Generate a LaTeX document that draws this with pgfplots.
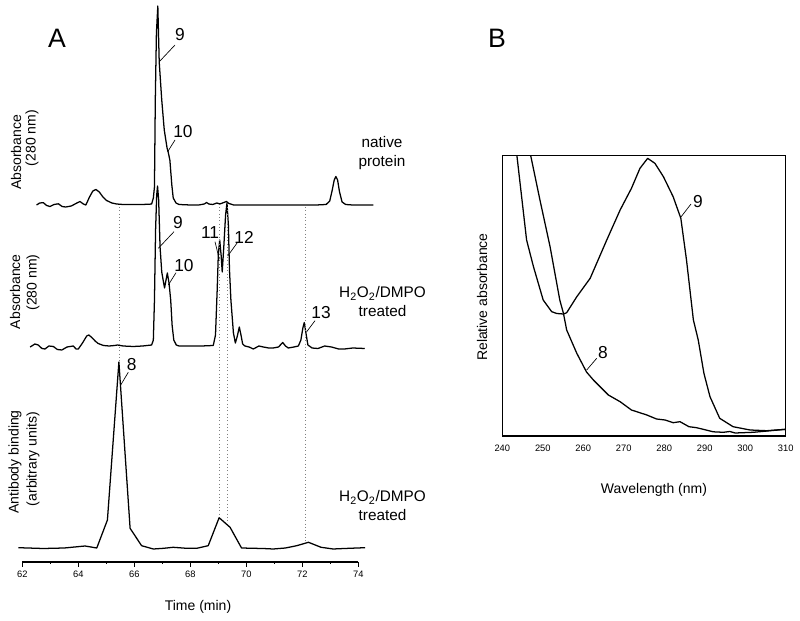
\documentclass[border=0pt]{standalone}
\usepackage{pgfplots}
\pgfplotsset{compat=1.18}
\usepackage{fontspec}
\setmainfont{Liberation Sans}
\newcommand\labf{\fontsize{10.5}{12.6}\selectfont}
\newcommand\tickf{\fontsize{7}{8.4}\selectfont}
\newcommand\numf{\fontsize{13}{15.6}\selectfont}
\newcommand\sidef{\fontsize{11.5}{14.25}\selectfont}
\newcommand\panelf{\fontsize{20}{24}\selectfont}
\pgfplotsset{tr/.style={black, line width=0.95pt, mark=none, line join=round}}
\tikzset{tk/.style={black, line width=0.8pt}}
\begin{document}
\begin{tikzpicture}
\useasboundingbox (0,0) rectangle (600pt,465.75pt);
% ---------------- Panel A ----------------
\begin{axis}[
  at={(16.725pt,44.25pt)}, anchor=south west,
  scale only axis, width=252pt, height=421.5pt,
  xmin=62, xmax=74, ymin=0, ymax=562,
  axis line style={draw=none},
  xtick={62,64,...,74}, ytick=\empty,
  tick align=outside, major tick length=3.5pt,
  tick style={draw=none},
  xticklabel style={font=\tickf},
  /pgf/number format/assume math mode=true,
  clip=false,
]
% x axis line and ticks
\draw[tk] (axis cs:62,0) -- (axis cs:74,0);
\draw[tk] (axis cs:62,0) -- (axis cs:62,-4.7);
\draw[tk] (axis cs:64,0) -- (axis cs:64,-4.7);
\draw[tk] (axis cs:66,0) -- (axis cs:66,-4.7);
\draw[tk] (axis cs:68,0) -- (axis cs:68,-4.7);
\draw[tk] (axis cs:70,0) -- (axis cs:70,-4.7);
\draw[tk] (axis cs:72,0) -- (axis cs:72,-4.7);
\draw[tk] (axis cs:74,0) -- (axis cs:74,-4.7);
\draw[tk] (axis cs:63,0) -- (axis cs:63,-2.4);
\draw[tk] (axis cs:65,0) -- (axis cs:65,-2.4);
\draw[tk] (axis cs:67,0) -- (axis cs:67,-2.4);
\draw[tk] (axis cs:69,0) -- (axis cs:69,-2.4);
\draw[tk] (axis cs:71,0) -- (axis cs:71,-2.4);
\draw[tk] (axis cs:73,0) -- (axis cs:73,-2.4);
% native protein
\addplot[tr] coordinates {
(62.51,357) (62.62,359) (62.75,359.3) (62.87,356.5) (62.99,355.5) (63.13,357.5)
(63.29,358.2) (63.42,355.5) (63.55,355) (63.75,356) (63.95,359) (64.06,360.5)
(64.18,358) (64.27,357) (64.40,365) (64.52,371) (64.63,372.5) (64.75,370)
(64.88,365) (65.01,361.5) (65.2,359) (65.37,358) (65.6,357.5) (65.9,357.5)
(66.2,357.5) (66.5,357.7) (66.62,358) (66.68,364) (66.72,375) (66.75,462)
(66.79,529) (66.84,556) (66.89,500) (66.98,462) (67.07,432) (67.17,414)
(67.21,410) (67.27,402) (67.34,377) (67.39,364) (67.49,359) (67.6,357.5)
(68.0,357) (68.3,357) (68.5,358) (68.58,359.5) (68.66,358) (68.8,357.5)
(68.95,359) (69.05,358) (69.2,359.5) (69.29,360.5) (69.38,358.5) (69.55,357)
(70.0,357) (70.5,357) (71.0,357) (71.5,357) (72.0,357) (72.5,357)
(72.85,357.5) (72.98,361) (73.07,372) (73.14,382) (73.2,385.5) (73.26,382)
(73.33,370) (73.42,360) (73.55,357.5) (73.8,357) (74.2,357) (74.54,357)
};
% H2O2/DMPO treated absorbance
\addplot[tr] coordinates {
(62.28,215) (62.45,218) (62.57,217) (62.7,213.5) (62.81,213) (62.95,216)
(63.11,215.5) (63.25,212.5) (63.41,212) (63.6,215) (63.82,216) (63.92,213)
(64.0,213) (64.15,219) (64.3,226) (64.38,227) (64.5,224) (64.6,221)
(64.71,218.5) (64.9,216.5) (65.1,216) (65.3,216.5) (65.4,217) (65.6,216)
(65.96,215.5) (66.3,216) (66.62,217) (66.68,222) (66.72,262) (66.76,332)
(66.8,367) (66.83,376) (66.87,362) (66.92,315) (66.98,290) (67.08,274)
(67.18,289) (67.24,279) (67.3,262) (67.35,237) (67.41,222) (67.5,217)
(67.6,216) (68.0,216) (68.4,216) (68.82,216.5) (68.9,227) (68.96,272)
(69.0,307) (69.05,322) (69.1,307) (69.14,290) (69.2,317) (69.26,347)
(69.31,359) (69.36,337) (69.4,292) (69.45,262) (69.54,229) (69.61,219)
(69.68,226) (69.75,235) (69.81,227) (69.87,218) (69.95,216) (70.1,215)
(70.25,213) (70.45,216) (70.61,215) (70.8,214) (70.96,214) (71.15,215)
(71.3,219.5) (71.4,216) (71.5,214) (71.7,215) (71.86,216) (71.95,222)
(72.02,234) (72.07,239.5) (72.13,229) (72.2,217) (72.35,214) (72.56,213.5)
(72.8,216) (73.04,215) (73.3,213) (73.51,213) (73.8,214) (74.23,213.5)
};
% antibody binding
\addplot[tr] coordinates {
(61.86,14.3) (62.75,13.5) (63.5,14) (64.24,16) (64.66,14) (65.04,42)
(65.45,200) (65.85,33.7) (66.26,16.3) (66.68,13) (67.05,13.7) (67.39,14.7)
(67.87,13.7) (68.23,13.7) (68.64,16.3) (69.03,44.3) (69.42,34.7) (69.83,14)
(70.25,13.7) (70.6,13.5) (70.96,13) (71.4,14) (71.8,16.3) (72.22,19.7)
(72.67,14.7) (73.1,13) (73.5,13.5) (74.24,14.3)
};
\draw[gray, dotted, line width=0.5pt] (axis cs:65.45,355) -- (axis cs:65.45,200);
\draw[gray, dotted, line width=0.5pt] (axis cs:69.04,355) -- (axis cs:69.04,45);
\draw[gray, dotted, line width=0.5pt] (axis cs:69.31,355) -- (axis cs:69.31,39);
\draw[gray, dotted, line width=0.5pt] (axis cs:72.12,355) -- (axis cs:72.12,20);
\end{axis}
% ---------------- Panel B ----------------
\begin{axis}[
  at={(376.725pt,138.75pt)}, anchor=south west,
  scale only axis, width=212.55pt, height=210.5pt,
  xmin=240, xmax=310, ymin=0, ymax=280.7,
  xtick={240,250,...,310}, ytick=\empty,
  major tick length=0pt,
  xticklabel style={font=\tickf, yshift=-3.5pt},
  /pgf/number format/assume math mode=true,
  axis line style={line width=0.8pt},
]
% fraction 9
\addplot[tr] coordinates {
(243.0,302) (243.6,280.7) (246.0,196) (247.7,169.3) (250.1,136) (252.2,124.3)
(253.5,122.5) (255.1,122) (255.9,123.3) (258.4,139.3) (261.7,157.7) (265.8,196)
(269.1,226) (271.9,247.7) (274,267.7) (275.9,277.7) (277.7,272.7) (279.8,259.3)
(282.2,239.3) (284.1,217.7) (285.5,176) (287.2,116) (288.4,96) (289.8,62.7)
(291.3,39.3) (293.7,17.7) (297,9.3) (301.2,6) (305.3,5.3) (310,6.7)
};
% fraction 8
\addplot[tr] coordinates {
(246.5,300) (247,280.7) (249.3,236) (251.8,189.3) (254.2,136) (255.1,122.7)
(255.9,106) (258.4,82.7) (260.8,64) (262.5,56) (266.2,41) (269.1,34.3)
(271.9,26) (275.7,21) (278.1,17) (280.2,16) (282.2,13.3) (283.9,14.3)
(286.1,9.3) (288,8.3) (292.1,4.2) (294.6,3.7) (296.2,4.5) (297.5,3)
(302,3.7) (310,6.7)
};
\end{axis}
% ---------------- Text (pixel coordinates) ----------------
\begin{scope}[x=0.75pt, y=-0.75pt, yshift=465.75pt]
\node[font=\panelf] at (57,38) {A};
\node[font=\panelf] at (497,38) {B};
% y labels panel A
\node[font=\labf, rotate=90] at (16,152.5) {Absorbance};
\node[font=\labf, rotate=90] at (32,138) {(280 nm)};
\node[font=\labf, rotate=90] at (15,291.7) {Absorbance};
\node[font=\labf, rotate=90] at (33,282.5) {(280 nm)};
\node[font=\labf, rotate=90] at (15,462) {Antibody binding};
\node[font=\labf, rotate=90] at (33,459) {(arbitrary units)};
\node[font=\labf] at (198,607) {Time (min)};
% side labels
\node[font=\sidef, align=center] at (382,153) {native\\protein};
\node[font=\sidef, align=center] at (382.5,302) {H\textsubscript{2}O\textsubscript{2}/DMPO\\treated};
\node[font=\sidef, align=center] at (382.5,506) {H\textsubscript{2}O\textsubscript{2}/DMPO\\treated};
% peak annotations panel A
\node[font=\numf] at (180,35) {9};
\draw[line width=0.5pt] (159.3,61.7) -- (175,45);
\node[font=\numf] at (183,132) {10};
\draw[line width=0.5pt] (167.7,151.7) -- (175,140);
\node[font=\numf] at (178,223) {9};
\draw[line width=0.5pt] (158.3,248.3) -- (174,231.7);
\node[font=\numf] at (184,266) {10};
\draw[line width=0.5pt] (168.3,285) -- (176,272.7);
\node[font=\numf] at (210,233) {11};
\draw[line width=0.5pt] (219.3,259.3) -- (215,241.7);
\node[font=\numf] at (244,237) {12};
\draw[line width=0.5pt] (227.7,256) -- (237.3,242.7);
\node[font=\numf] at (321,312.5) {13};
\draw[line width=0.5pt] (306.7,331.7) -- (315,320.7);
\node[font=\numf] at (131.7,365) {8};
\draw[line width=0.5pt] (120.7,385) -- (128.3,372.3);
% panel B
\node[font=\numf] at (698,201.7) {9};
\draw[line width=0.5pt] (680.7,217.3) -- (691,204);
\node[font=\numf] at (603,353) {8};
\draw[line width=0.5pt] (586.7,370) -- (596.7,358.3);
\node[font=\labf] at (654,490) {Wavelength (nm)};
\node[font=\labf, rotate=90] at (482,297) {Relative absorbance};
\end{scope}
\end{tikzpicture}
\end{document}
